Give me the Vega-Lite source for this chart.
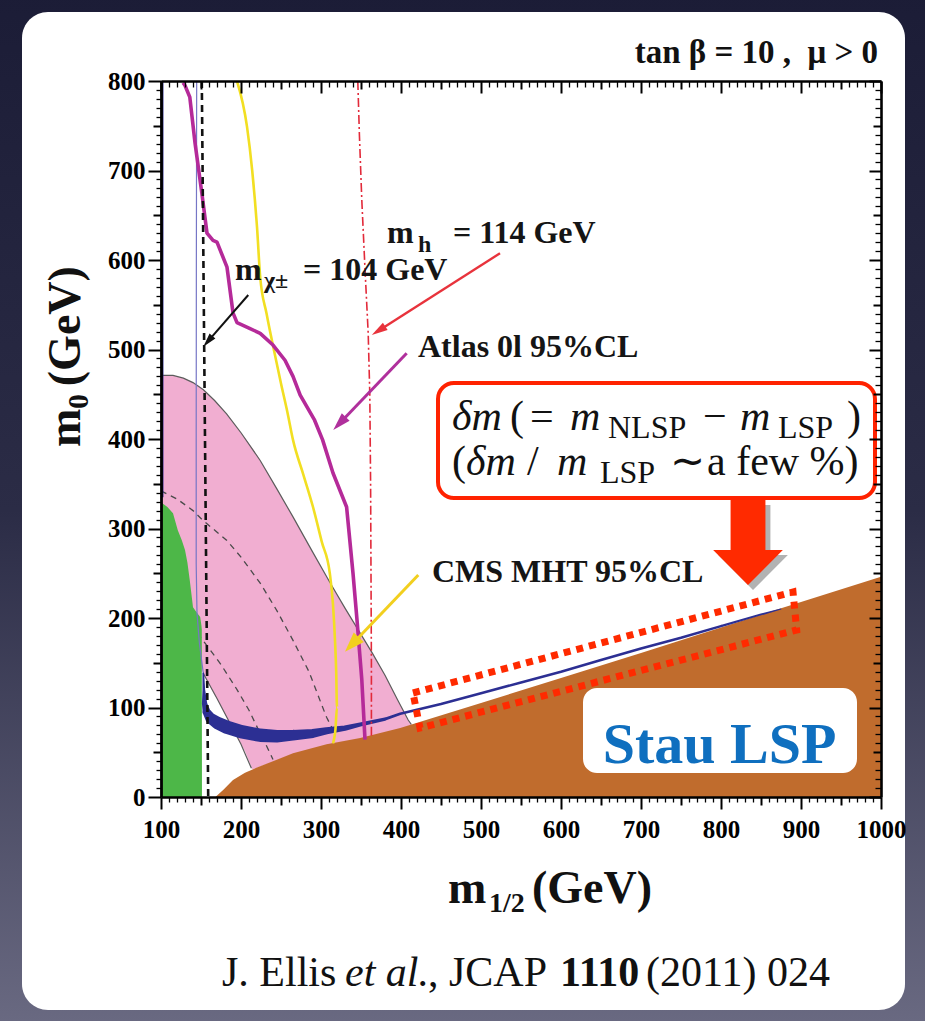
{
  "$schema": "https://vega.github.io/schema/vega-lite/v6.json",
  "width": 720,
  "height": 716,
  "autosize": {"type": "none"},
  "padding": {"left": 161, "top": 81, "right": 44, "bottom": 224},
  "background": "#1e1f38",
  "config": {
    "view": {"stroke": null},
    "text": {"font": "Liberation Serif", "baseline": "alphabetic", "align": "left"}
  },
  "resolve": {"axis": {"x": "independent", "y": "independent"}},
  "encoding": {
    "x": {"field": "x", "type": "quantitative", "scale": {"domain": [100, 1000], "nice": false, "zero": false}, "axis": null},
    "y": {"field": "y", "type": "quantitative", "scale": {"domain": [0, 800], "nice": false, "zero": false}, "axis": null}
  },
  "layer": [
    {
      "data": {"values": [{"x": -130, "x2": 1080, "y": -270, "y2": 910}]},
      "mark": {"type": "rect", "fill": {"gradient": "linear", "x1": 0, "y1": 0, "x2": 0, "y2": 1, "stops": [{"offset": 0, "color": "#1b1c36"}, {"offset": 0.5, "color": "#2b2c46"}, {"offset": 1, "color": "#6b6b83"}]}},
      "encoding": {"x2": {"field": "x2"}, "y2": {"field": "y2"}}
    },
    {
      "data": {"values": [{"x": -73.75, "x2": 1030, "y": -238, "y2": 877}]},
      "mark": {"type": "rect", "fill": "#ffffff", "cornerRadius": 26},
      "encoding": {"x2": {"field": "x2"}, "y2": {"field": "y2"}}
    },
    {
      "data": {"values": [
        {"x": 100, "lo": 140, "hi": 471}, {"x": 115, "lo": 140, "hi": 471}, {"x": 128, "lo": 140, "hi": 468},
        {"x": 140, "lo": 140, "hi": 463}, {"x": 152.5, "lo": 140, "hi": 455}, {"x": 153, "lo": 138, "hi": 455},
        {"x": 167, "lo": 114, "hi": 443}, {"x": 170, "lo": 110, "hi": 440}, {"x": 182, "lo": 89, "hi": 428},
        {"x": 190, "lo": 76, "hi": 419}, {"x": 200, "lo": 59, "hi": 407}, {"x": 205, "lo": 51, "hi": 401},
        {"x": 214, "lo": 31, "hi": 390}, {"x": 220, "lo": 32, "hi": 382}, {"x": 224, "lo": 34, "hi": 376},
        {"x": 240, "lo": 39, "hi": 352}, {"x": 245, "lo": 41, "hi": 344}, {"x": 265, "lo": 48, "hi": 313},
        {"x": 290, "lo": 54, "hi": 273}, {"x": 307, "lo": 58, "hi": 246}, {"x": 311, "lo": 59, "hi": 240},
        {"x": 330, "lo": 62, "hi": 211}, {"x": 345, "lo": 64, "hi": 189}, {"x": 364, "lo": 68, "hi": 161},
        {"x": 380, "lo": 72, "hi": 136}, {"x": 396, "lo": 75, "hi": 108}, {"x": 409, "lo": 79, "hi": 86},
        {"x": 413, "lo": 80, "hi": 81}
      ]},
      "mark": {"type": "area", "fill": "#f1aed1", "clip": true},
      "encoding": {
        "y": {"field": "lo", "type": "quantitative", "scale": {"domain": [0, 800], "nice": false, "zero": false}, "axis": null},
        "y2": {"field": "hi"}
      }
    },
    {
      "data": {"values": [
        {"k": "a", "x": 100, "y": 342}, {"k": "a", "x": 120, "y": 333}, {"k": "a", "x": 140, "y": 320},
        {"k": "a", "x": 152.5, "y": 309}, {"k": "a", "x": 182, "y": 287}, {"k": "a", "x": 200, "y": 268},
        {"k": "a", "x": 224, "y": 239}, {"k": "a", "x": 245, "y": 208}, {"k": "a", "x": 265, "y": 175},
        {"k": "a", "x": 285, "y": 140}, {"k": "a", "x": 300, "y": 105}, {"k": "a", "x": 307, "y": 89},
        {"k": "a", "x": 315, "y": 75},
        {"k": "b", "x": 100, "y": 229}, {"k": "b", "x": 120, "y": 212}, {"k": "b", "x": 140, "y": 190},
        {"k": "b", "x": 152.5, "y": 175}, {"k": "b", "x": 175, "y": 148}, {"k": "b", "x": 195, "y": 120},
        {"k": "b", "x": 210, "y": 97}, {"k": "b", "x": 224, "y": 71}, {"k": "b", "x": 232, "y": 57},
        {"k": "b", "x": 240, "y": 42}
      ]},
      "mark": {"type": "line", "stroke": "#4a4a4a", "strokeWidth": 1.3, "strokeDash": [6, 5], "clip": true},
      "encoding": {"detail": {"field": "k"}, "order": {"value": null}}
    },
    {
      "data": {"values": [
        {"k": "outer", "x": 100, "y": 471}, {"k": "outer", "x": 115, "y": 471}, {"k": "outer", "x": 128, "y": 468},
        {"k": "outer", "x": 140, "y": 463}, {"k": "outer", "x": 153, "y": 455}, {"k": "outer", "x": 167, "y": 443},
        {"k": "outer", "x": 182, "y": 428}, {"k": "outer", "x": 200, "y": 407}, {"k": "outer", "x": 224, "y": 376},
        {"k": "outer", "x": 245, "y": 344}, {"k": "outer", "x": 265, "y": 313}, {"k": "outer", "x": 290, "y": 273},
        {"k": "outer", "x": 311, "y": 240}, {"k": "outer", "x": 330, "y": 211}, {"k": "outer", "x": 345, "y": 189},
        {"k": "outer", "x": 364, "y": 161}, {"k": "outer", "x": 380, "y": 136}, {"k": "outer", "x": 396, "y": 108},
        {"k": "outer", "x": 409, "y": 86}, {"k": "outer", "x": 413, "y": 81},
        {"k": "inner", "x": 152.9, "y": 138}, {"k": "inner", "x": 170, "y": 110}, {"k": "inner", "x": 190, "y": 76},
        {"k": "inner", "x": 200, "y": 59}, {"k": "inner", "x": 213, "y": 32}
      ]},
      "mark": {"type": "line", "stroke": "#5c5c5c", "strokeWidth": 1.2, "clip": true},
      "encoding": {"detail": {"field": "k"}, "order": {"value": null}}
    },
    {
      "data": {"values": [
        {"x": 168, "y": 0}, {"x": 178, "y": 8}, {"x": 190, "y": 19}, {"x": 205, "y": 27}, {"x": 220, "y": 33},
        {"x": 240, "y": 40}, {"x": 265, "y": 49}, {"x": 307, "y": 59}, {"x": 349, "y": 66}, {"x": 399, "y": 77},
        {"x": 500, "y": 105}, {"x": 600, "y": 133}, {"x": 700, "y": 161}, {"x": 800, "y": 189.5},
        {"x": 900, "y": 218}, {"x": 1000, "y": 246}
      ]},
      "mark": {"type": "area", "fill": "#c06c2d", "clip": true},
      "encoding": {"y2": {"datum": 0}}
    },
    {
      "data": {"values": [
        {"x": 100, "y": 330}, {"x": 102, "y": 328}, {"x": 108, "y": 324}, {"x": 115, "y": 317}, {"x": 121, "y": 298},
        {"x": 126, "y": 287}, {"x": 130, "y": 276}, {"x": 133, "y": 262}, {"x": 136, "y": 242}, {"x": 140, "y": 212},
        {"x": 144, "y": 207}, {"x": 149, "y": 201}, {"x": 150.5, "y": 192}, {"x": 151, "y": 187}, {"x": 151.2, "y": 0}
      ]},
      "mark": {"type": "area", "fill": "#4db748", "clip": true},
      "encoding": {"y2": {"datum": 0}}
    },
    {
      "data": {"values": [{"x": 101.5, "y": 800}, {"x": 101.5, "y": 335}]},
      "mark": {"type": "line", "stroke": "#26268c", "strokeWidth": 2.5, "clip": true},
      "encoding": {"order": {"value": null}}
    },
    {
      "data": {"values": [
        {"x": 144.6, "y": 800}, {"x": 144.2, "y": 600}, {"x": 144, "y": 400}, {"x": 144, "y": 260},
        {"x": 145, "y": 205}, {"x": 148, "y": 172}, {"x": 152.9, "y": 138}
      ]},
      "mark": {"type": "line", "stroke": "#7676c6", "strokeWidth": 1.2, "clip": true},
      "encoding": {"order": {"value": null}}
    },
    {
      "data": {"values": [
        {"x": 152.9, "y": 138, "th": 2}, {"x": 153.5, "y": 120, "th": 3}, {"x": 154.5, "y": 104, "th": 6},
        {"x": 157, "y": 95, "th": 9}, {"x": 162, "y": 88, "th": 12}, {"x": 170, "y": 83, "th": 14},
        {"x": 182, "y": 78, "th": 15}, {"x": 200, "y": 73, "th": 15}, {"x": 224, "y": 69, "th": 15},
        {"x": 245, "y": 68, "th": 14}, {"x": 265, "y": 69, "th": 12}, {"x": 290, "y": 71, "th": 10},
        {"x": 307, "y": 74, "th": 8}, {"x": 330, "y": 77, "th": 6}, {"x": 349, "y": 81, "th": 4.5},
        {"x": 380, "y": 87, "th": 3.5}, {"x": 399, "y": 93, "th": 3}, {"x": 450, "y": 104, "th": 2.8},
        {"x": 500, "y": 116, "th": 2.8}, {"x": 550, "y": 128, "th": 2.8}, {"x": 600, "y": 140, "th": 2.8},
        {"x": 650, "y": 153, "th": 2.8}, {"x": 700, "y": 166, "th": 2.8}, {"x": 750, "y": 178, "th": 2.8},
        {"x": 800, "y": 191, "th": 2.6}, {"x": 850, "y": 204, "th": 2.2}, {"x": 875, "y": 210, "th": 1.2}
      ]},
      "mark": {"type": "trail", "color": "#2c2f93", "clip": true},
      "encoding": {
        "size": {"field": "th", "type": "quantitative", "scale": {"domain": [0, 20], "range": [0, 17.9]}, "legend": null},
        "order": {"value": null}
      }
    },
    {
      "data": {"values": [
        {"x": 195, "y": 800}, {"x": 207.5, "y": 749}, {"x": 214, "y": 700}, {"x": 220, "y": 637}, {"x": 224, "y": 581},
        {"x": 232, "y": 540}, {"x": 241, "y": 500}, {"x": 250, "y": 462}, {"x": 258, "y": 430}, {"x": 265, "y": 399},
        {"x": 278, "y": 360}, {"x": 290, "y": 324}, {"x": 301, "y": 285}, {"x": 311, "y": 250}, {"x": 315, "y": 215},
        {"x": 317.5, "y": 175}, {"x": 319, "y": 140}, {"x": 320, "y": 100}, {"x": 318, "y": 75}, {"x": 315, "y": 60}
      ]},
      "mark": {"type": "line", "stroke": "#f2df22", "strokeWidth": 2.6, "clip": true, "interpolate": "monotone"},
      "encoding": {"order": {"value": null}}
    },
    {
      "data": {"values": [
        {"x": 127.5, "y": 798}, {"x": 130, "y": 795}, {"x": 136, "y": 782}, {"x": 142.5, "y": 731}, {"x": 151, "y": 675},
        {"x": 157.5, "y": 630}, {"x": 165, "y": 622}, {"x": 170, "y": 620}, {"x": 182.5, "y": 592}, {"x": 190, "y": 541},
        {"x": 195, "y": 530}, {"x": 210, "y": 524}, {"x": 224, "y": 518}, {"x": 240, "y": 505}, {"x": 255, "y": 488},
        {"x": 265, "y": 470}, {"x": 274, "y": 449}, {"x": 292, "y": 421}, {"x": 302, "y": 399}, {"x": 315, "y": 362},
        {"x": 332, "y": 324}, {"x": 340, "y": 250}, {"x": 345, "y": 198}, {"x": 351, "y": 131}, {"x": 355, "y": 64}
      ]},
      "mark": {"type": "line", "stroke": "#b52a99", "strokeWidth": 3.6, "clip": true, "strokeJoin": "round"},
      "encoding": {"order": {"value": null}}
    },
    {
      "data": {"values": [{"x": 151, "y": 800}, {"x": 155, "y": 400}, {"x": 159, "y": 0}]},
      "mark": {"type": "line", "stroke": "#111111", "strokeWidth": 2.6, "strokeDash": [7, 5], "clip": true},
      "encoding": {"order": {"value": null}}
    },
    {
      "data": {"values": [
        {"x": 346, "y": 800}, {"x": 348, "y": 740}, {"x": 351, "y": 667}, {"x": 355, "y": 590}, {"x": 359, "y": 518},
        {"x": 361, "y": 450}, {"x": 362, "y": 350}, {"x": 362.5, "y": 250}, {"x": 363, "y": 150}, {"x": 363, "y": 66}
      ]},
      "mark": {"type": "line", "stroke": "#e22a3a", "strokeWidth": 1.6, "strokeDash": [9, 3, 2, 3], "clip": true},
      "encoding": {"order": {"value": null}}
    },
    {
      "data": {"values": [{"x": 627.5, "x2": 970, "y": 26.8, "y2": 121.8}]},
      "mark": {"type": "rect", "fill": "#ffffff", "cornerRadius": 14},
      "encoding": {"x2": {"field": "x2"}, "y2": {"field": "y2"}}
    },
    {
      "data": {"values": [{"t": "Stau LSP", "x": 798.1, "y": 38}]},
      "mark": {"type": "text", "font": "Liberation Serif", "fontWeight": "bold", "fontSize": 58, "color": "#0f6fbf", "align": "center"},
      "encoding": {"text": {"field": "t"}}
    },
    {
      "data": {"values": [
        {"x": 415, "y": 116.2}, {"x": 890, "y": 229.1}, {"x": 894.6, "y": 186.6}, {"x": 423.75, "y": 77.1}, {"x": 415, "y": 116.2}
      ]},
      "mark": {"type": "line", "stroke": "#ff2a00", "strokeWidth": 7, "strokeDash": [7, 6], "strokeCap": "butt"},
      "encoding": {"order": {"value": null}}
    },
    {
      "data": {"values": [{"x": 446.25, "x2": 992.5, "y": 334.1, "y2": 462.6}]},
      "mark": {"type": "rect", "fill": "#ffffff", "stroke": "#ff2200", "strokeWidth": 4, "cornerRadius": 16},
      "encoding": {"x2": {"field": "x2"}, "y2": {"field": "y2"}}
    },
    {
      "data": {"values": [
        {"t": "δm", "x": 463.75, "y": 410.06}, {"t": "m", "x": 611.25, "y": 410.06}, {"t": "m", "x": 823.75, "y": 410.06},
        {"t": "δm", "x": 481.25, "y": 359.8}, {"t": "m", "x": 595, "y": 359.8}
      ]},
      "mark": {"type": "text", "font": "Liberation Serif", "fontSize": 42, "fontStyle": "italic", "color": "#111111"},
      "encoding": {"text": {"field": "t"}}
    },
    {
      "data": {"values": [
        {"t": "(", "x": 536.25, "y": 410.06}, {"t": "=", "x": 561.25, "y": 410.06}, {"t": "−", "x": 777.5, "y": 410.06},
        {"t": ")", "x": 957.5, "y": 410.06}, {"t": "(", "x": 463.75, "y": 359.8}, {"t": "/", "x": 557.5, "y": 359.8},
        {"t": "∼", "x": 736.25, "y": 359.8}, {"t": "a few %)", "x": 782.5, "y": 359.8}
      ]},
      "mark": {"type": "text", "font": "Liberation Serif", "fontSize": 42, "color": "#111111"},
      "encoding": {"text": {"field": "t"}}
    },
    {
      "data": {"values": [
        {"t": "NLSP", "x": 658.75, "y": 401.1}, {"t": "LSP", "x": 871.25, "y": 401.1}, {"t": "LSP", "x": 648.75, "y": 350.8}
      ]},
      "mark": {"type": "text", "font": "Liberation Serif", "fontSize": 32, "color": "#111111"},
      "encoding": {"text": {"field": "t"}}
    },
    {
      "data": {"values": [{"x": 833.75, "y": 284.4}]},
      "mark": {"type": "point", "shape": "M-0.41,-1L0.41,-1L0.41,0.18L0.82,0.18L0,1L-0.82,0.18L-0.41,0.18Z", "size": 7225, "filled": true, "color": "#555555", "opacity": 0.45, "strokeWidth": 0, "xOffset": 5, "yOffset": 5}
    },
    {
      "data": {"values": [{"x": 833.75, "y": 284.4}]},
      "mark": {"type": "point", "shape": "M-0.41,-1L0.41,-1L0.41,0.18L0.82,0.18L0,1L-0.82,0.18L-0.41,0.18Z", "size": 7225, "filled": true, "color": "#ff2a00", "opacity": 1, "strokeWidth": 0}
    },
    {
      "data": {"values": [{"x": 209.1, "y": 560.9, "x2": 158.6, "y2": 509.1}]},
      "mark": {"type": "rule", "color": "#111111", "strokeWidth": 2},
      "encoding": {"x2": {"field": "x2"}, "y2": {"field": "y2"}}
    },
    {
      "data": {"values": [{"x": 158.6, "y": 509.1}]},
      "mark": {"type": "point", "shape": "M0,-1L0.55,1L-0.55,1Z", "size": 196, "angle": 221, "filled": true, "color": "#111111", "opacity": 1, "strokeWidth": 0}
    },
    {
      "data": {"values": [{"x": 523.75, "y": 607.5, "x2": 371.9, "y2": 521.0}]},
      "mark": {"type": "rule", "color": "#e8333c", "strokeWidth": 2.4},
      "encoding": {"x2": {"field": "x2"}, "y2": {"field": "y2"}}
    },
    {
      "data": {"values": [{"x": 371.9, "y": 521.0}]},
      "mark": {"type": "point", "shape": "M0,-1L0.55,1L-0.55,1Z", "size": 256, "angle": 237.5, "filled": true, "color": "#e8333c", "opacity": 1, "strokeWidth": 0}
    },
    {
      "data": {"values": [{"x": 407.1, "y": 495.8, "x2": 323.1, "y2": 417.3}]},
      "mark": {"type": "rule", "color": "#b0309c", "strokeWidth": 3},
      "encoding": {"x2": {"field": "x2"}, "y2": {"field": "y2"}}
    },
    {
      "data": {"values": [{"x": 323.1, "y": 417.3}]},
      "mark": {"type": "point", "shape": "M0,-1L0.6,1L-0.6,1Z", "size": 324, "angle": 223.7, "filled": true, "color": "#b0309c", "opacity": 1, "strokeWidth": 0}
    },
    {
      "data": {"values": [{"x": 421.6, "y": 248.0, "x2": 338.6, "y2": 170.4}]},
      "mark": {"type": "rule", "color": "#f2cf1e", "strokeWidth": 3},
      "encoding": {"x2": {"field": "x2"}, "y2": {"field": "y2"}}
    },
    {
      "data": {"values": [{"x": 338.6, "y": 170.4}]},
      "mark": {"type": "point", "shape": "M0,-1L0.7,1L-0.7,1Z", "size": 400, "angle": 223.7, "filled": true, "color": "#f2cf1e", "opacity": 1, "strokeWidth": 0}
    },
    {
      "data": {"values": [
        {"t": "m", "x": 382.5, "y": 619}, {"t": "= 114 GeV", "x": 465, "y": 619},
        {"t": "m", "x": 192.5, "y": 577.7}, {"t": "= 104 GeV", "x": 277.5, "y": 577.7},
        {"t": "Atlas 0l 95%CL", "x": 421.25, "y": 491.6}, {"t": "CMS MHT 95%CL", "x": 438.75, "y": 240.2}
      ]},
      "mark": {"type": "text", "font": "Liberation Serif", "fontSize": 32, "fontWeight": "bold", "color": "#151515"},
      "encoding": {"text": {"field": "t"}}
    },
    {
      "data": {"values": [{"t": "h", "x": 421.25, "y": 608.9}, {"t": "χ±", "x": 228.75, "y": 568.7}]},
      "mark": {"type": "text", "font": "Liberation Serif", "fontSize": 24, "fontWeight": "bold", "color": "#151515"},
      "encoding": {"text": {"field": "t"}}
    },
    {
      "data": {"values": [{"t": "tan β = 10 ,\u00a0\u00a0μ > 0", "x": 996.25, "y": 820.1}]},
      "mark": {"type": "text", "font": "Liberation Serif", "fontSize": 33, "fontWeight": "bold", "color": "#111111", "align": "right"},
      "encoding": {"text": {"field": "t"}}
    },
    {
      "data": {"values": [{"t": "m", "x": 458.75, "y": -118.4}, {"t": "(GeV)", "x": 563.75, "y": -118.4}]},
      "mark": {"type": "text", "font": "Liberation Serif", "fontSize": 46, "fontWeight": "bold", "color": "#111111"},
      "encoding": {"text": {"field": "t"}}
    },
    {
      "data": {"values": [{"t": "1/2", "x": 510, "y": -128.5}]},
      "mark": {"type": "text", "font": "Liberation Serif", "fontSize": 28, "fontWeight": "bold", "color": "#111111"},
      "encoding": {"text": {"field": "t"}}
    },
    {
      "data": {"values": [{"t": "m", "x": -1.25, "y": 391}, {"t": "(GeV)", "x": -1.25, "y": 459}]},
      "mark": {"type": "text", "font": "Liberation Serif", "fontSize": 46, "fontWeight": "bold", "color": "#111111", "angle": 270},
      "encoding": {"text": {"field": "t"}}
    },
    {
      "data": {"values": [{"t": "0", "x": 8.75, "y": 433.5}]},
      "mark": {"type": "text", "font": "Liberation Serif", "fontSize": 30, "fontWeight": "bold", "color": "#111111", "angle": 270},
      "encoding": {"text": {"field": "t"}}
    },
    {
      "data": {"values": [{"t": "J. Ellis", "x": 176.25, "y": -211.2}, {"t": ", JCAP", "x": 433.75, "y": -211.2}, {"t": "(2011) 024", "x": 706.25, "y": -211.2}]},
      "mark": {"type": "text", "font": "Liberation Serif", "fontSize": 42, "color": "#111111"},
      "encoding": {"text": {"field": "t"}}
    },
    {
      "data": {"values": [{"t": "et al.", "x": 330, "y": -211.2}]},
      "mark": {"type": "text", "font": "Liberation Serif", "fontSize": 42, "fontStyle": "italic", "color": "#111111"},
      "encoding": {"text": {"field": "t"}}
    },
    {
      "data": {"values": [{"t": "1110", "x": 598.75, "y": -211.2}]},
      "mark": {"type": "text", "font": "Liberation Serif", "fontSize": 42, "fontWeight": "bold", "color": "#111111"},
      "encoding": {"text": {"field": "t"}}
    },
    {
      "data": {"values": [{"x": 100, "y": 0}]},
      "mark": {"type": "point", "opacity": 0},
      "encoding": {
        "x": {"field": "x", "type": "quantitative", "scale": {"domain": [100, 1000], "nice": false, "zero": false},
          "axis": {"orient": "bottom", "tickCount": 90, "format": "d",
            "labelExpr": "datum.value % 100 === 0 ? datum.label : ''",
            "labelOverlap": false, "labelFlush": false, "labelBound": false,
            "labelFont": "Liberation Serif", "labelFontWeight": "bold", "labelFontSize": 25, "labelColor": "#000000", "labelPadding": 8,
            "tickColor": "#000000",
            "tickSize": {"condition": [{"test": "datum.value % 100 === 0", "value": 12}, {"test": "datum.value % 50 === 0", "value": 8}], "value": 5},
            "tickWidth": {"condition": {"test": "datum.value % 50 === 0", "value": 2}, "value": 1.3},
            "domain": true, "domainColor": "#000000", "domainWidth": 2.6, "grid": false, "title": null, "zindex": 1}},
        "y": {"field": "y", "type": "quantitative", "scale": {"domain": [0, 800], "nice": false, "zero": false},
          "axis": {"orient": "left", "tickCount": 80, "format": "d",
            "labelExpr": "datum.value % 100 === 0 ? datum.label : ''",
            "labelOverlap": false, "labelFlush": false, "labelBound": false,
            "labelFont": "Liberation Serif", "labelFontWeight": "bold", "labelFontSize": 25, "labelColor": "#000000", "labelPadding": 3,
            "tickColor": "#000000",
            "tickSize": {"condition": [{"test": "datum.value % 100 === 0", "value": 13}, {"test": "datum.value % 50 === 0", "value": 8}], "value": 5},
            "tickWidth": {"condition": {"test": "datum.value % 50 === 0", "value": 2}, "value": 1.3},
            "domain": true, "domainColor": "#000000", "domainWidth": 2.8, "grid": false, "title": null, "zindex": 1}}
      }
    },
    {
      "data": {"values": [{"x": 100, "y": 0}]},
      "mark": {"type": "point", "opacity": 0},
      "encoding": {
        "x": {"field": "x", "type": "quantitative", "scale": {"domain": [100, 1000], "nice": false, "zero": false},
          "axis": {"orient": "top", "tickCount": 90, "labels": false,
            "tickColor": "#000000",
            "tickSize": {"condition": [{"test": "datum.value % 100 === 0", "value": -12}, {"test": "datum.value % 50 === 0", "value": -8}], "value": -6},
            "tickWidth": {"condition": {"test": "datum.value % 50 === 0", "value": 2}, "value": 1.3},
            "domain": true, "domainColor": "#000000", "domainWidth": 2.6, "grid": false, "title": null, "zindex": 1}},
        "y": {"field": "y", "type": "quantitative", "scale": {"domain": [0, 800], "nice": false, "zero": false},
          "axis": {"orient": "right", "tickCount": 80, "labels": false,
            "tickColor": "#000000",
            "tickSize": {"condition": [{"test": "datum.value % 100 === 0", "value": -12}, {"test": "datum.value % 50 === 0", "value": -8}], "value": -6},
            "tickWidth": {"condition": {"test": "datum.value % 50 === 0", "value": 2}, "value": 1.3},
            "domain": true, "domainColor": "#000000", "domainWidth": 2.6, "grid": false, "title": null, "zindex": 1}}
      }
    }
  ]
}
